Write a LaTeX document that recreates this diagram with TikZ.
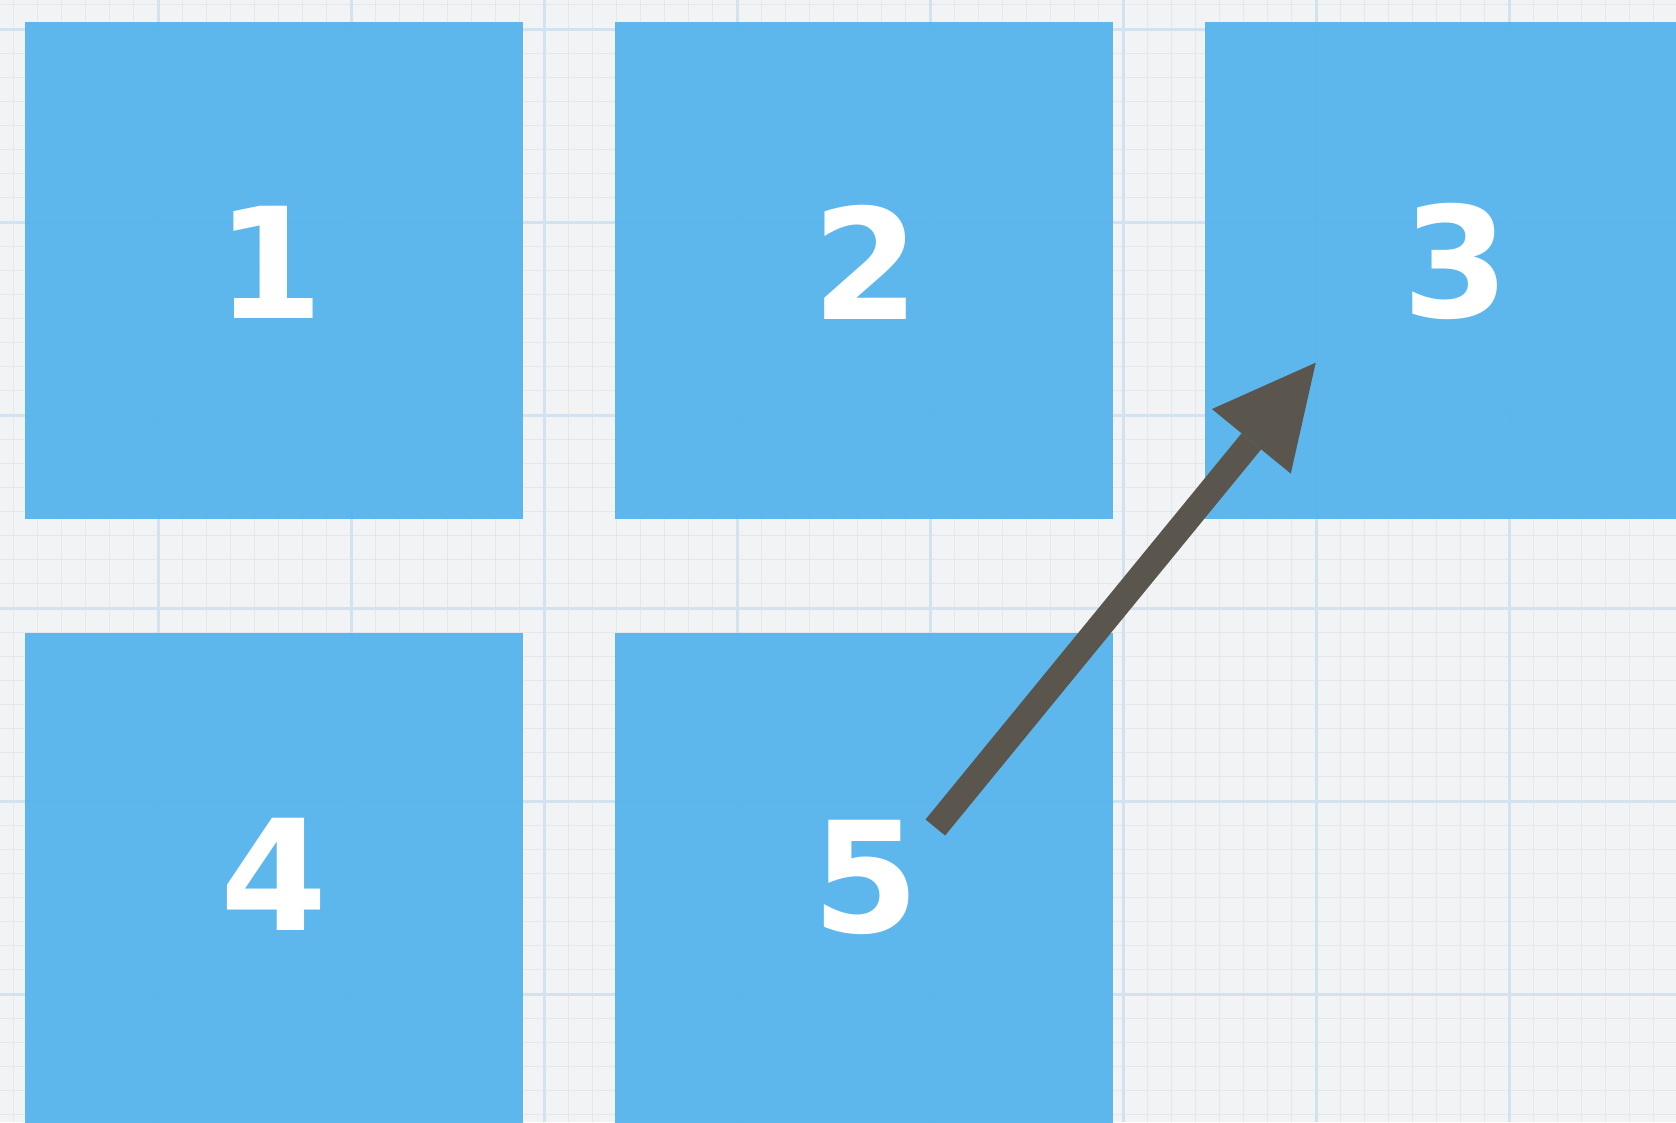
\documentclass[tikz,border=0pt]{standalone}
\usepackage{fontspec}
\setmainfont{DejaVu Sans}
\usetikzlibrary{arrows.meta}
\definecolor{bgc}{RGB}{242,243,245}
\definecolor{minorc}{RGB}{226,232,238}
\definecolor{majorc}{RGB}{210,227,239}
\definecolor{boxc}{RGB}{88,181,236}
\definecolor{arrowc}{RGB}{90,85,77}
\tikzset{
  box/.style={fill=boxc, fill opacity=0.96, draw=none, minimum width=498pt, minimum height=497pt, inner sep=0pt, anchor=north west},
  digit/.style={text=white, font=\fontsize{154}{154}\selectfont\bfseries, inner sep=0pt},
  minorline/.style={draw=minorc, line width=1.2pt},
  majorline/.style={draw=majorc, line width=3pt},
  bigarrow/.style={draw=arrowc, line width=25.3pt, line cap=butt, -{Triangle[length=101.6pt,width=101.9pt,line width=0pt]}}
}
\begin{document}
\begin{tikzpicture}[x=1pt,y=-1pt]
\useasboundingbox (0,0) rectangle (1676,1122);
\fill[bgc] (0,0) rectangle (1676,1122);
% grid
\foreach \i in {0,...,72} {
  \draw[minorline] ({-35+\i*24.125},0) -- ({-35+\i*24.125},1122);
}
\foreach \i in {0,...,48} {
  \draw[minorline] (0,{-19.25+\i*24.125}) -- (1676,{-19.25+\i*24.125});
}
\foreach \i in {0,...,8} {
  \draw[majorline] ({158+\i*193},0) -- ({158+\i*193},1122);
}
\foreach \i in {0,...,5} {
  \draw[majorline] (0,{29+\i*193}) -- (1676,{29+\i*193});
}
% boxes
\node[box] (b1) at (25,22) {};
\node[box] (b2) at (615,22) {};
\node[box] (b3) at (1205,22) {};
\node[box] (b4) at (25,633) {};
\node[box] (b5) at (615,633) {};
% digits
\node[digit] (d1) at (270,262) {1};
\node[digit] (d2) at (866,262) {2};
\node[digit] (d3) at (1456,261) {3};
\node[digit] (d4) at (274,874) {4};
\node[digit] (d5) at (866,877) {5};
% arrow
\coordinate (tail) at (935.3,827.5);
\coordinate (tip) at (1315.7,362.7);
\draw[bigarrow] (tail) -- (tip);
\end{tikzpicture}
\end{document}
